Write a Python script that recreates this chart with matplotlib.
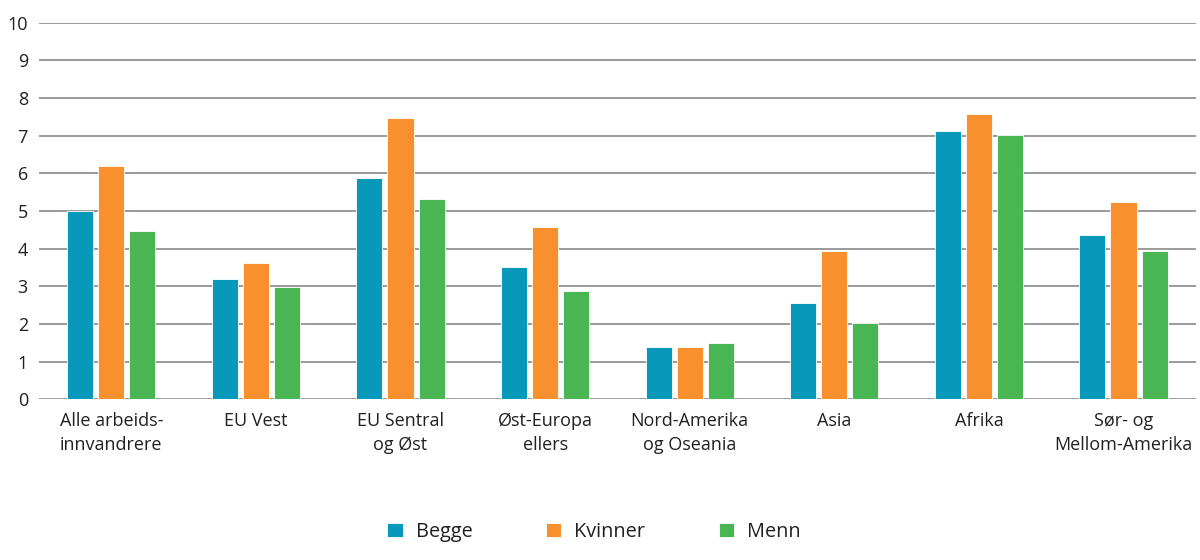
import numpy as np
import matplotlib
matplotlib.use('Agg')
import matplotlib.pyplot as plt

# data
kategorier = ["Alle arbeids-\ninnvandrere", "EU Vest", "EU Sentral\nog Øst", "Øst-Europa\nellers",
              "Nord-Amerika\nog Oseania", "Asia", "Afrika", "Sør- og\nMellom-Amerika"]
begge = [5.0, 3.2, 5.87, 3.52, 1.4, 2.56, 7.13, 4.36]
kvinner = [6.19, 3.62, 7.46, 4.58, 1.4, 3.95, 7.57, 5.23]
menn = [4.48, 2.99, 5.32, 2.88, 1.5, 2.03, 7.03, 3.94]
serier = ["Begge", "Kvinner", "Menn"]
farger = ["#0798ba", "#f7902d", "#4ab653"]

plt.rcParams['font.family'] = ['Open Sans', 'DejaVu Sans']
plt.rcParams['text.color'] = '#231f20'

fig = plt.figure(figsize=(12, 5.6), dpi=100)
ax = fig.add_axes([0.0325, 0.287, 0.964, 0.6725])

x = np.arange(len(kategorier))
bredde = 0.18
for i, (verdier, navn, farge) in enumerate(zip([begge, kvinner, menn], serier, farger)):
    ax.bar(x + (i - 1) * 0.215, verdier, bredde, color=farge, label=navn,
           edgecolor='white', linewidth=0.6, zorder=3)

ax.set_xlim(-0.5, len(kategorier) - 0.5)
ax.set_ylim(0, 10)
ax.set_yticks(range(0, 11))
ax.grid(axis='y', color='#9a9a9a', linewidth=1.4, zorder=0)
for s in ax.spines.values():
    s.set_visible(False)
ax.tick_params(axis='both', length=0, labelsize=13, colors='#231f20')
ax.tick_params(axis='x', pad=9)
ax.tick_params(axis='y', pad=8)
ax.set_xticks(x)
ax.set_xticklabels(kategorier, linespacing=1.45)

fig.legend(loc='center', bbox_to_anchor=(0.495, 0.05), ncol=3, frameon=False,
           fontsize=14.3, handlelength=0.78, handleheight=0.72, handletextpad=0.65,
           columnspacing=3.7)

fig.savefig('out.png', dpi=100)
